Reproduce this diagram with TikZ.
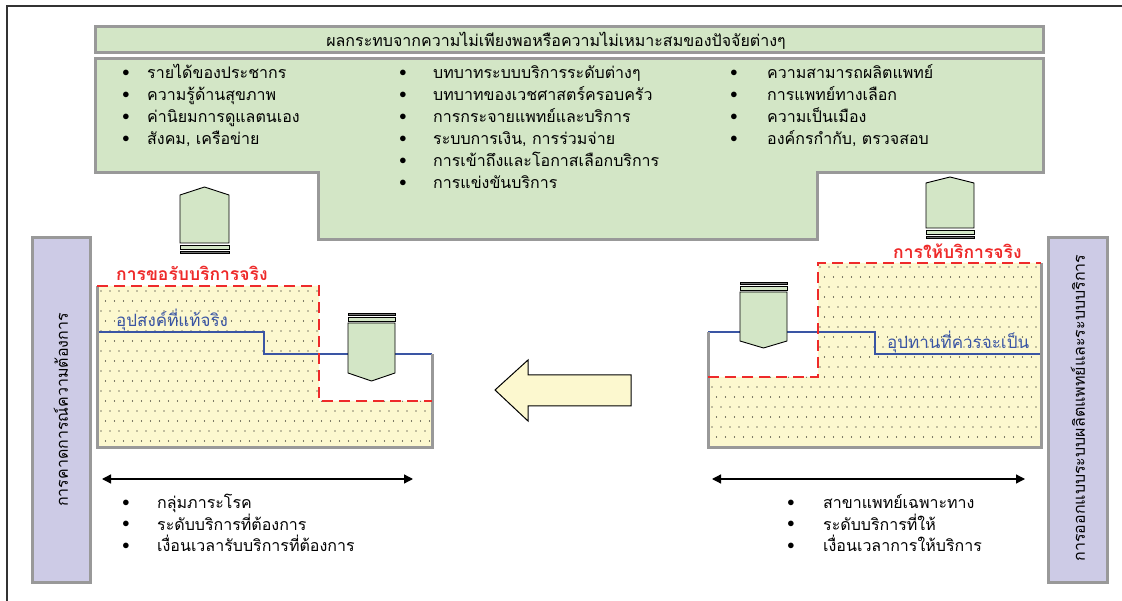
\documentclass[tikz,border=0pt]{standalone}
\usepackage{fontspec}
\newfontfamily\thaifont[Script=Thai]{Loma}
\usetikzlibrary{arrows.meta}
\definecolor{boxgreen}{HTML}{D3E6C6}
\definecolor{boxgray}{HTML}{999999}
\definecolor{lavender}{HTML}{CDCBE6}
\definecolor{sandyellow}{HTML}{FCF8CF}
\definecolor{dashred}{HTML}{EE2A2A}
\definecolor{lineblue}{HTML}{3A55A4}
\definecolor{stripegray}{HTML}{707070}

\tikzset{
    thaitext/.style={inner sep=0pt, font=\thaifont\fontsize{16}{18}\selectfont},
    item/.style={thaitext, anchor=base west},
    bul/.style={inner sep=0pt, anchor=center, font=\fontsize{15}{17}\selectfont},
    panel/.style={draw=boxgray, line width=3pt, fill=boxgreen},
    sidebox/.style={draw=boxgray, line width=3pt, fill=lavender},
    arrowbody/.style={draw=black, line width=0.9pt, fill=boxgreen},
    redlabel/.style={thaitext, anchor=base west, text=dashred, font=\thaifont\bfseries\fontsize{17.5}{19}\selectfont},
    bluelabel/.style={thaitext, anchor=base west, text=lineblue, font=\thaifont\fontsize{17}{19}\selectfont},
    spanarrow/.style={line width=1.3pt, {Triangle[length=9pt,width=9pt]}-{Triangle[length=9pt,width=9pt]}}
}

\begin{document}
\begin{tikzpicture}[x=1pt, y=-1pt]
        \useasboundingbox (0,0) rectangle (1122,601);
        % outer frame
        \draw [black!80, line width=1.5pt] (7,601) -- (7,6) -- (1122,6);

        % top panels
        \draw [panel] (95,27) rectangle (1043,53);
        \node [thaitext] (title) at (556,41) {ผลกระทบจากความไม่เพียงพอหรือความไม่เหมาะสมของปัจจัยต่างๆ};
        \draw [panel] (95,59) -- (1043,59) -- (1043,173) -- (817,173) -- (817,240)
                -- (318,240) -- (318,173) -- (95,173) -- cycle;

        \foreach \t [count=\i from 0] in {รายได้ของประชากร, ความรู้ด้านสุขภาพ, ค่านิยมการดูแลตนเอง, {สังคม, เครือข่าย}} {
            \node [bul] (ba\i) at (126,73+22*\i) {$\bullet$};
            \node [item] (ta\i) at (147,78.5+22*\i) {\t};
        }
        \foreach \t [count=\i from 0] in {บทบาทระบบบริการระดับต่างๆ, บทบาทของเวชศาสตร์ครอบครัว, การกระจายแพทย์และบริการ, {ระบบการเงิน, การร่วมจ่าย}, การเข้าถึงและโอกาสเลือกบริการ, การแข่งขันบริการ} {
            \node [bul] (bb\i) at (403,73+22*\i) {$\bullet$};
            \node [item] (tb\i) at (433,78.5+22*\i) {\t};
        }
        \foreach \t [count=\i from 0] in {ความสามารถผลิตแพทย์, การแพทย์ทางเลือก, ความเป็นเมือง, {องค์กรกำกับ, ตรวจสอบ}} {
            \node [bul] (bc\i) at (734,73+22*\i) {$\bullet$};
            \node [item] (tc\i) at (767,78.5+22*\i) {\t};
        }

        % side boxes
        \draw [sidebox] (32,238) rectangle (90,582);
        \node [thaitext, rotate=90] (demand) at (61,410) {การคาดการณ์ความต้องการ};
        \draw [sidebox] (1048,238) rectangle (1107,582);
        \node [thaitext, rotate=90] (supply) at (1078,408) {การออกแบบระบบผลิตแพทย์และระบบบริการ};

        % dotted areas
        \begin{scope}
            \clip (97,286) -- (319,286) -- (319,401) -- (432,401) -- (432,447) -- (97,447) -- cycle;
            \fill [sandyellow] (90,280) rectangle (440,450);
            \foreach \r in {0,...,16} {
            \foreach \c in {0,...,38} {
                \fill ({101+9*\c+4.5*mod(\r,2)},{291+10*\r}) circle (0.7pt);
            }
            }
        \end{scope}
        \begin{scope}
            \clip (708,377) -- (818,377) -- (818,263) -- (1041,263) -- (1041,447) -- (708,447) -- cycle;
            \fill [sandyellow] (700,255) rectangle (1050,450);
            \foreach \r in {0,...,18} {
            \foreach \c in {0,...,37} {
                \fill ({712+9*\c+4.5*mod(\r,2)},{267+10*\r}) circle (0.7pt);
            }
            }
        \end{scope}

        % demand / supply lines
        \draw [lineblue, line width=2.5pt] (97,332) -- (264,332) -- (264,354) -- (432,354);
        \draw [lineblue, line width=2.5pt] (708,332) -- (875,332) -- (875,354) -- (1042,354);
        \draw [boxgray, line width=3pt] (97,286) -- (97,447) -- (432,447) -- (432,354);
        \draw [boxgray, line width=3pt] (1041,263) -- (1041,447) -- (708,447) -- (708,332);
        \draw [dashred, line width=2.5pt, dash pattern=on 11pt off 6pt] (97,286) -- (319,286) -- (319,401) -- (432,401);
        \draw [dashred, line width=2.5pt, dash pattern=on 11pt off 6pt] (708,377) -- (818,377) -- (818,263) -- (1041,263);

        \node [redlabel] (askreal) at (116,280.5) {การขอรับบริการจริง};
        \node [redlabel] (givereal) at (893,258.5) {การให้บริการจริง};
        \node [bluelabel] (truedemand) at (116,326.5) {อุปสงค์ที่แท้จริง};
        \node [bluelabel] (duesupply) at (887,349) {อุปทานที่ควรจะเป็น};

        % up arrows
        \foreach \xa/\xb/\yt/\ys/\yb in {180/229/187/195/243, 926/974/177/183/228} {
            \draw [arrowbody] (\xa,\yb) -- (\xa,\ys) -- ({(\xa+\xb)/2},\yt) -- (\xb,\ys) -- (\xb,\yb) -- cycle;
            \draw [black, line width=0.8pt, fill=boxgreen] (\xa,\yb+2) rectangle (\xb,\yb+6);
            \draw [black, line width=0.8pt, fill=stripegray] (\xa,\yb+8) rectangle (\xb,\yb+10);
        }
        % down arrows
        \foreach \xa/\xb/\yt/\ys/\yb in {348/395/313/373/381, 740/787/282/341/348} {
            \draw [black, line width=0.8pt, fill=stripegray] (\xa,\yt) rectangle (\xb,\yt+2.5);
            \draw [black, line width=0.8pt, fill=boxgreen] (\xa,\yt+4.5) rectangle (\xb,\yt+8.5);
            \draw [arrowbody] (\xa,\yt+10) -- (\xa,\ys) -- ({(\xa+\xb)/2},\yb) -- (\xb,\ys) -- (\xb,\yt+10) -- cycle;
        }

        % big arrow
        \draw [black, line width=1pt, fill=sandyellow] (495,390) -- (528,360) -- (528,375) -- (631,375)
                -- (631,406) -- (528,406) -- (528,421) -- cycle;

        % spans
        \coordinate (sl1) at (102,479);
        \coordinate (sl2) at (413,479);
        \coordinate (sr1) at (712,479);
        \coordinate (sr2) at (1025,479);
        \draw [spanarrow] (sl1) -- (sl2);
        \draw [spanarrow] (sr1) -- (sr2);

        \foreach \t [count=\i from 0] in {กลุ่มภาระโรค, ระดับบริการที่ต้องการ, เงื่อนเวลารับบริการที่ต้องการ} {
            \node [bul] (bd\i) at (126,503+21.5*\i) {$\bullet$};
            \node [item] (td\i) at (157,508.5+21.5*\i) {\t};
        }
        \foreach \t [count=\i from 0] in {สาขาแพทย์เฉพาะทาง, ระดับบริการที่ให้, เงื่อนเวลาการให้บริการ} {
            \node [bul] (be\i) at (791,503+21.5*\i) {$\bullet$};
            \node [item] (te\i) at (823,508.5+21.5*\i) {\t};
        }

\end{tikzpicture}
\end{document}
